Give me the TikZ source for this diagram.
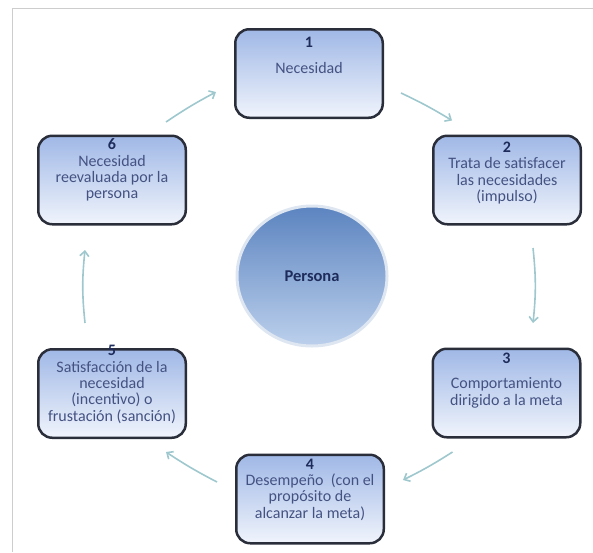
\documentclass[tikz,border=0pt]{standalone}
\usepackage{fontspec}
\setmainfont{Carlito}
\usepackage{tikz}
\definecolor{borde}{RGB}{42, 46, 58}
\definecolor{cajaarriba}{RGB}{160, 184, 230}
\definecolor{cajaabajo}{RGB}{240, 244, 252}
\definecolor{texto}{RGB}{68, 82, 130}
\definecolor{numero}{RGB}{30, 44, 92}
\definecolor{flechagris}{RGB}{158, 200, 206}
\definecolor{marco}{RGB}{205, 205, 205}
\definecolor{personaarriba}{RGB}{92, 132, 192}
\definecolor{personaabajo}{RGB}{188, 208, 236}
\definecolor{personaborde}{RGB}{222, 230, 241}
\usetikzlibrary{positioning}
\usetikzlibrary{shapes.geometric}
\usetikzlibrary{arrows.meta}
\newcommand{\pasotexto}[4]{\parbox[c][80pt][t]{146pt}{\centering\vspace*{#1}\leavevmode{\bfseries\color{numero}#2}\\[#3]#4}}
\tikzset{paso/.style={rectangle, rounded corners=14pt, minimum width=147.5pt, minimum height=88.5pt, line width=2.5pt, draw=borde, top color=cajaarriba, bottom color=cajaabajo, inner sep=0pt, text=texto, font=\fontsize{16}{16.3}\selectfont}}
\tikzset{flecha/.style={line width=1.6pt, color=flechagris, -{Straight Barb[length=5pt, width=9pt]}, bend left=3}}

\begin{document}
\begin{tikzpicture}
\useasboundingbox (0pt, 0pt) rectangle (593pt, -552pt);
\draw [marco, line width=1pt] (12pt, -552pt) -- (12pt, -8pt) -- (593pt, -8pt);
% ciclo de la motivacion
\node (b1) [paso] at (309pt, -73.5pt) {\pasotexto{4pt}{1}{9pt}{Necesidad}};
\node (b2) [paso] at (507pt, -180pt) {\pasotexto{2pt}{2}{0pt}{Trata de satisfacer\\las necesidades\\(impulso)}};
\node (b3) [paso] at (506.5pt, -393pt) {\pasotexto{0pt}{3}{9pt}{Comportamiento\\dirigido a la meta}};
\node (b4) [paso] at (310pt, -499pt) {\pasotexto{0pt}{4}{0pt}{Desempeño~ (con el\\propósito de\\alcanzar la meta)}};
\node (b5) [paso] at (112pt, -393.5pt) {\pasotexto{-8pt}{5}{0pt}{Satisfacción de la\\necesidad\\(incentivo) o\\frustación (sanción)}};
\node (b6) [paso] at (112pt, -180pt) {\pasotexto{-1pt}{6}{0pt}{Necesidad\\reevaluada por la\\persona}};
\node (persona) [ellipse, minimum width=150pt, minimum height=140pt, top color=personaarriba, bottom color=personaabajo, draw=personaborde, line width=3pt, text=numero, font=\bfseries\fontsize{16.5}{18}\selectfont] at (312pt, -276pt) {Persona};
% flechas
\draw [flecha] ([xshift=17pt, yshift=26pt]b1.south east) to ([xshift=20pt, yshift=14pt]b2.north west);
\draw [flecha, bend left=6] ([xshift=26pt, yshift=-22.5pt]b2.south) to ([xshift=26.5pt, yshift=24.5pt]b3.north);
\draw [flecha] ([xshift=21pt, yshift=-13.5pt]b3.south west) to ([xshift=18pt, yshift=-26.5pt]b4.north east);
\draw [flecha] ([xshift=-18pt, yshift=-28.5pt]b4.north west) to ([xshift=-21pt, yshift=-13pt]b5.south east);
\draw [flecha, bend left=6] ([xshift=-27pt, yshift=25pt]b5.north) to ([xshift=-27pt, yshift=-24.5pt]b6.south);
\draw [flecha] ([xshift=-21pt, yshift=12.5pt]b6.north east) to ([xshift=-18pt, yshift=27pt]b1.south west);
\end{tikzpicture}
\end{document}
